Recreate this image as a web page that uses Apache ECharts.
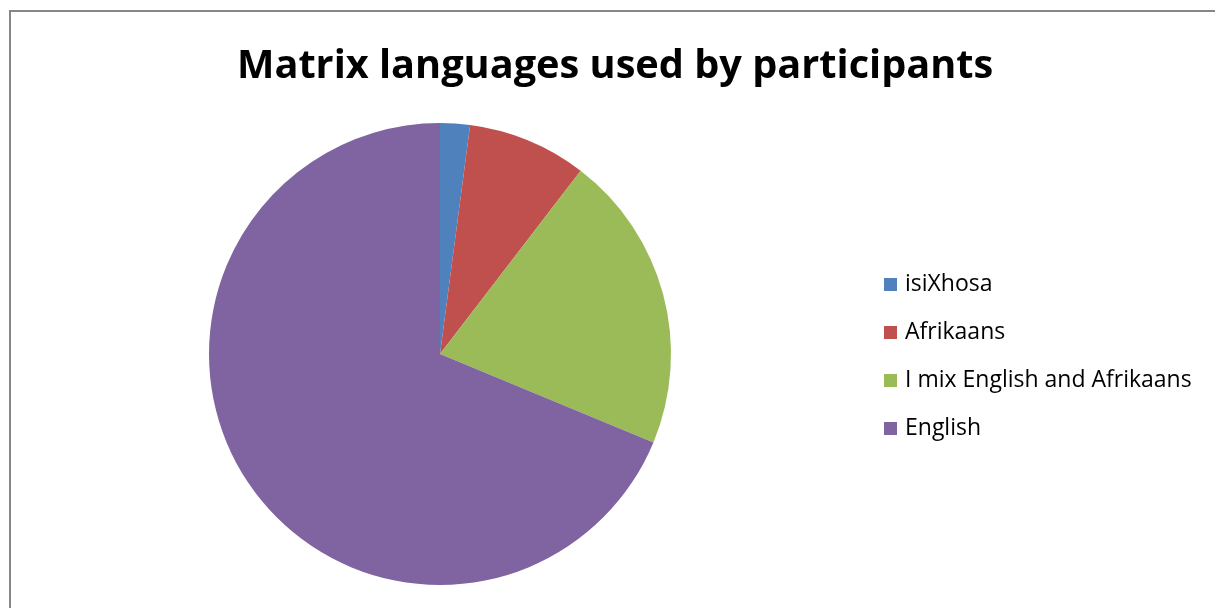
<!DOCTYPE html>
<html>
<head>
<meta charset="utf-8">
<script src="https://cdn.jsdelivr.net/npm/echarts@6/dist/echarts.min.js"></script>
<style>
  html, body { margin: 0; padding: 0; background: #fff; }
  #chart { width: 1215px; height: 608px; }
</style>
</head>
<body>
<div id="chart"></div>
<script>
// Participant counts per matrix language
const categories = ['isiXhosa', 'Afrikaans', 'I mix English and Afrikaans', 'English'];
const counts = [1, 4, 10, 33];
const colors = ['#4F81BD', '#C0504D', '#9BBB59', '#8064A2'];

const chart = echarts.init(document.getElementById('chart'));
chart.setOption({
  animation: false,
  backgroundColor: '#ffffff',
  color: colors,
  title: {
    text: 'Matrix languages used by participants',
    left: 232,
    top: 42,
    textStyle: {
      fontFamily: 'Open Sans',
      fontWeight: 'bold',
      fontSize: 39.7,
      color: '#000'
    }
  },
  graphic: [{
    type: 'rect',
    shape: { x: 10, y: 11, width: 1400, height: 800 },
    style: { fill: 'none', stroke: '#868686', lineWidth: 2 },
    silent: true
  }],
  legend: {
    orient: 'vertical',
    left: 879,
    top: 268,
    itemWidth: 13,
    itemHeight: 13,
    itemGap: 25,
    icon: 'rect',
    textStyle: { fontFamily: 'Open Sans', fontSize: 23, color: '#000', padding: [0, 0, 0, 3] },
    data: categories
  },
  series: [{
    type: 'pie',
    center: [440, 354],
    radius: 231,
    startAngle: 90,
    clockwise: true,
    label: { show: false },
    labelLine: { show: false },
    itemStyle: { borderWidth: 0 },
    data: categories.map((name, i) => ({ name, value: counts[i] }))
  }]
});
</script>
</body>
</html>
